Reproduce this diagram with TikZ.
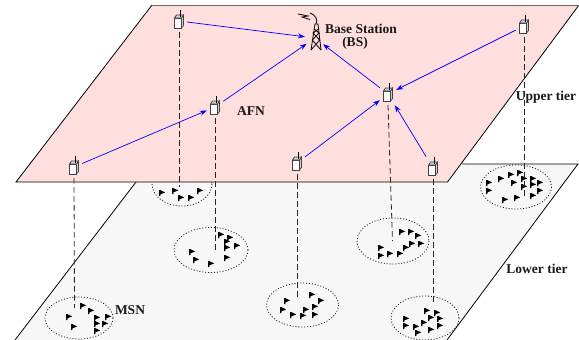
\documentclass[tikz,border=0pt]{standalone}
\usepackage{fontspec}
\setmainfont{Liberation Serif}
\usetikzlibrary{arrows.meta}
\definecolor{upperpink}{HTML}{FFDEDE}
\definecolor{lowergrey}{HTML}{F7F7F7}
\tikzset{
  plane/.style={draw=black,line width=0.8pt,line join=miter},
  cluster/.style={draw=black!90,line width=0.8pt,dash pattern=on 1pt off 1.9pt},
  drop/.style={draw=black!85,line width=0.8pt,dash pattern=on 5.5pt off 3.5pt},
  link/.style={draw=blue,line width=0.7pt,-{Stealth[length=7pt,width=5pt]}},
  lab/.style={font=\fontsize{13.5}{15}\selectfont\bfseries,text=black!90,inner sep=0pt},
  pnode/.style={rectangle,inner sep=0pt,minimum width=16pt,minimum height=22pt},
  bsnode/.style={circle,inner sep=0pt,minimum size=20pt},
  pics/handset/.style={code={
    \fill[white] (-4.5,-5) rectangle (4,7);
    \draw[black!75,line width=0.7pt,fill=white] (-4.5,-3) rectangle (2.5,7);
    \draw[black!75,line width=0.7pt,fill=black!18] (2.5,-3) -- (4.5,-6) -- (4.5,4.5) -- (2.5,7) -- cycle;
    \draw[black!75,line width=0.7pt,fill=black!18] (-4.5,-3) -- (-2.5,-6) -- (4.5,-6) -- (2.5,-3) -- cycle;
    \draw[black,line width=1pt] (1.5,-4) -- (1.5,-11);
  }},
  pics/flag/.style={code={
    \fill[black] (-2.8,-2.8) -- (-1.6,-2.8) -- (3.2,-0.6) -- (-1.6,1.4) -- (-1.6,3.2) -- (-2.8,3.2) -- cycle;
  }}
}
\begin{document}
\begin{tikzpicture}[x=1pt,y=-1pt]
\useasboundingbox (0,0) rectangle (579,340);
% lower tier
\fill[lowergrey] (136,182) -- (15,340) -- (447,340) -- (578,164) -- (462,164) -- cycle;
\draw[plane] (136,182) -- (15,340);
\draw[plane] (462,164) -- (578,164) -- (447,340);
% clusters
\foreach \cx/\cy/\rx/\ry in {182/184/30/22,211/250/37/22.5,79/318/34/21,302.5/305/36/22,393/241/36/23,425/318/34/22,516/187/35.5/22}
  \draw[cluster] (\cx,\cy) ellipse [x radius=\rx,y radius=\ry];
\foreach \fx/\fy in {162/193,175/191,181/198,191/198,200/191,
  221/235,230/238,227/242,227/248,237/246,227/258,192/252,196/260,211/264,
  83/306,91/311,69/317,97/318,108/317,97/324,105/324,74/327,97/331,
  312/295,321/301,306/310,315/307,315/315,303/316,293/315,287/301,283/310,
  402/232,411/232,418/236,421/244,412/244,406/248,381/248,381/256,390/254,400/254,
  427/311,437/313,431/318,440/319,440/326,406/319,406/326,416/327,424/323,431/330,418/333,
  489/183,489/191,501/179,511/175,520/173,514/183,524/179,533/179,533/185,540/183,524/187,540/191,533/196,517/198,505/200}
  \pic at (\fx,\fy) {flag};
% upper tier
\fill[upperpink] (152,5) -- (579,5) -- (447.5,182) -- (16,182) -- cycle;
\draw[plane] (152,5) -- (16,182) -- (447.5,182) -- (579,5);
\draw[black!60,line width=1pt] (152,5) -- (579,5);
% nodes
\foreach \n/\x/\y in {pa/179/21,pb/215/107,pc/74/167,pd/297/163,pe/388/94,pf/433/168,pg/524/26}
  \node[pnode] (\n) at (\x,\y) {};
\node[bsnode] (bs) at (315,38) {};
% drop lines
\coordinate (ea) at (179,187);
\coordinate (eb) at (215,251);
\coordinate (ec) at (74.5,308);
\coordinate (ed) at (297,297);
\coordinate (ee) at (392.5,241);
\coordinate (ef) at (433,305);
\coordinate (eg) at (524,196);
\foreach \a/\b in {pa/ea,pb/eb,pc/ec,pd/ed,pe/ee,pf/ef,pg/eg}
  \draw[drop] (\a.south) -- (\b);
% handsets
\foreach \n in {pa,pb,pc,pd,pe,pf,pg}
  \pic at (\n) {handset};
% tower
\begin{scope}[line width=0.8pt,black]
  \draw (311,50) -- (315,24) -- (318,24) -- (321,50);
  \draw (311,50) -- (319.7,40) -- (313,33) -- (318.7,29);
  \draw (321,50) -- (312.3,40) -- (319,33) -- (314.3,29);
  \draw (310,13) .. controls (316,15) and (318,20) .. (316,24);
  \draw (298,14) -- (308,16) -- (302,17) -- (310,19.5);
\end{scope}
% links
\draw[link] (pa) -- (bs);
\draw[link] (pb) -- (bs);
\draw[link] (pc) -- (pb);
\draw[link] (pe) -- (bs);
\draw[link] (pg) -- (pe);
\draw[link] (pd) -- (pe);
\draw[link] (pf) -- (pe);
% labels
\node[lab] (lbs) at (361,28.5) {Base Station};
\node[lab] (lbs2) at (355,43) {(BS)};
\node[lab] (lafn) at (251,111) {AFN};
\node[lab] (lup) at (546,97) {Upper tier};
\node[lab] (llow) at (537,269) {Lower tier};
\node[lab] (lmsn) at (130,310) {MSN};
\end{tikzpicture}
\end{document}
